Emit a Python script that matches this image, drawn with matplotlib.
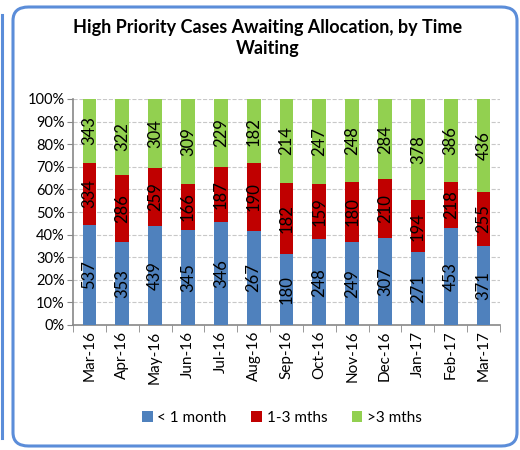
import numpy as np
import matplotlib
matplotlib.use("Agg")
import matplotlib.pyplot as plt
from matplotlib.patches import FancyBboxPatch
from matplotlib.lines import Line2D

plt.rcParams['font.family'] = ['Lato', 'DejaVu Sans']

months = ["Mar-16", "Apr-16", "May-16", "Jun-16", "Jul-16", "Aug-16", "Sep-16",
          "Oct-16", "Nov-16", "Dec-16", "Jan-17", "Feb-17", "Mar-17"]
under_1m = [537, 353, 439, 345, 346, 267, 180, 248, 249, 307, 271, 453, 371]
one_to_3m = [334, 286, 259, 166, 187, 190, 182, 159, 180, 210, 194, 218, 255]
over_3m = [343, 322, 304, 309, 229, 182, 214, 247, 248, 284, 378, 386, 436]

series = [("< 1 month", under_1m, "#4f81bd"),
          ("1-3 mths", one_to_3m, "#c00000"),
          (">3 mths", over_3m, "#92d050")]

W, H = 520, 450
fig = plt.figure(figsize=(W / 100, H / 100), dpi=100)

# outer rounded frame + edge of neighbouring panel
frame = FancyBboxPatch((13 / W, 4 / H), 504 / W, 439 / H,
                       boxstyle="round,pad=0,rounding_size=0.03",
                       transform=fig.transFigure, fill=False,
                       edgecolor="#5b8dd9", linewidth=2.2)
fig.patches.append(frame)
fig.lines.append(Line2D([1.5 / W, 1.5 / W], [12 / H, 1 - 15 / H],
                        transform=fig.transFigure, color="#5b8dd9", linewidth=2.2))

ax = fig.add_axes([73 / W, 1 - 325 / H, 427 / W, 226 / H])

totals = np.array(under_1m) + np.array(one_to_3m) + np.array(over_3m)
x = np.arange(len(months))
bottom = np.zeros(len(months))
for name, vals, color in series:
    vals = np.array(vals)
    pct = vals / totals * 100
    ax.bar(x, pct, width=0.42, bottom=bottom, color=color, label=name, zorder=3)
    for xi, b, p, v in zip(x, bottom, pct, vals):
        ax.text(xi, b + p / 2, str(v), rotation=90, ha="center", va="center",
                fontsize=12, color="black", zorder=4)
    bottom += pct

ax.set_xlim(-0.5, len(months) - 0.5)
ax.set_ylim(0, 100)
ax.set_yticks(np.arange(0, 101, 10))
ax.set_yticklabels([f"{v}%" for v in range(0, 101, 10)], fontsize=10.5)
ax.set_xticks(x)
ax.set_xticklabels(months, rotation=90, fontsize=11)
ax.tick_params(axis="x", length=0, pad=4)
ax.set_xticks(np.arange(-0.5, len(months), 1), minor=True)
ax.tick_params(axis="x", which="minor", length=5, color="#888888")
ax.tick_params(axis="y", length=4, color="#888888", pad=2)
ax.grid(axis="y", linestyle="--", color="#c8c8c8", linewidth=0.8, zorder=0)
for side in ["top", "right"]:
    ax.spines[side].set_visible(False)
for side in ["left", "bottom"]:
    ax.spines[side].set_color("#888888")
    ax.spines[side].set_linewidth(1.2)

fig.text(268 / W, 1 - 38 / H, "High Priority Cases Awaiting Allocation, by Time\nWaiting",
         ha="center", va="center", fontsize=13, fontweight="bold", linespacing=1.35)

fig.legend(loc="center", bbox_to_anchor=(282 / W, 1 - 418 / H), ncol=3,
           frameon=False, fontsize=11, handlelength=0.7, handleheight=0.7,
           handletextpad=0.3, columnspacing=1.6)

fig.savefig("out.png", dpi=100)
